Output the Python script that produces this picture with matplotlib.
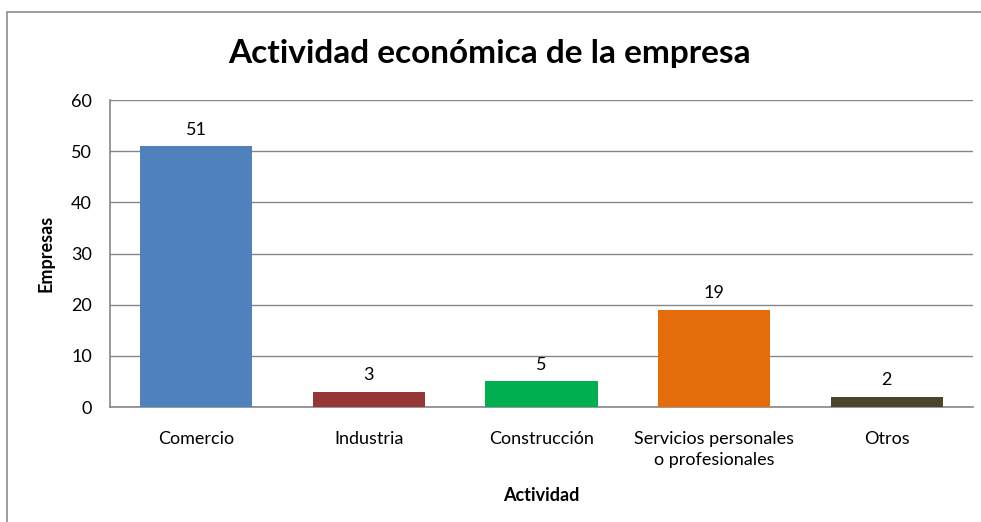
import matplotlib
matplotlib.use("Agg")
import matplotlib.pyplot as plt
from matplotlib.patches import Rectangle

categories = ["Comercio", "Industria", "Construcción", "Servicios personales\no profesionales", "Otros"]
values = [51, 3, 5, 19, 2]
colors = ["#4F81BD", "#953735", "#00B050", "#E46C0A", "#4A452A"]
yticks = [0, 10, 20, 30, 40, 50, 60]

plt.rcParams['font.family'] = ['Lato', 'DejaVu Sans']

W, H = 981, 522
fig = plt.figure(figsize=(W / 100, H / 100), dpi=100)

# outer chart border (only top and left edges fall inside the picture)
top = 1 - 12 / H
fig.add_artist(Rectangle((6.5 / W, -0.5), 2.0, top + 0.5, transform=fig.transFigure,
                         fill=False, edgecolor="#8c8c8c", lw=1.2))

ax = fig.add_axes([110 / W, 1 - 407 / H, (973 - 110) / W, (407 - 100) / H])
x = list(range(len(categories)))
bars = ax.bar(x, values, width=0.65, color=colors, zorder=3)
ax.set_xlim(-0.5, len(categories) - 0.5)
ax.set_ylim(0, 60)
ax.set_yticks(yticks)
ax.set_xticks(x)
ax.set_xticklabels(categories, fontsize=13, linespacing=1.45)
ax.tick_params(axis='both', length=0, labelsize=13, colors="#000000")
ax.tick_params(axis='y', pad=13)
ax.tick_params(axis='x', pad=17)
ax.yaxis.grid(True, color="#868686", lw=1, zorder=0)
for s in ["top", "right"]:
    ax.spines[s].set_visible(False)
for s in ["left", "bottom"]:
    ax.spines[s].set_color("#868686")
    ax.spines[s].set_linewidth(1.2)

for xi, v in zip(x, values):
    ax.annotate(str(v), (xi, v), xytext=(0, 6), textcoords="offset points",
                ha="center", va="bottom", fontsize=13)

ax.set_ylabel("Empresas", fontsize=13, fontweight="bold", labelpad=12)
ax.set_xlabel("Actividad", fontsize=13, fontweight="bold", labelpad=13)

fig.text(490 / W, 1 - 53 / H, "Actividad económica de la empresa", ha="center", va="center",
         fontsize=24, fontweight="bold")

fig.savefig("out.png", dpi=100)
